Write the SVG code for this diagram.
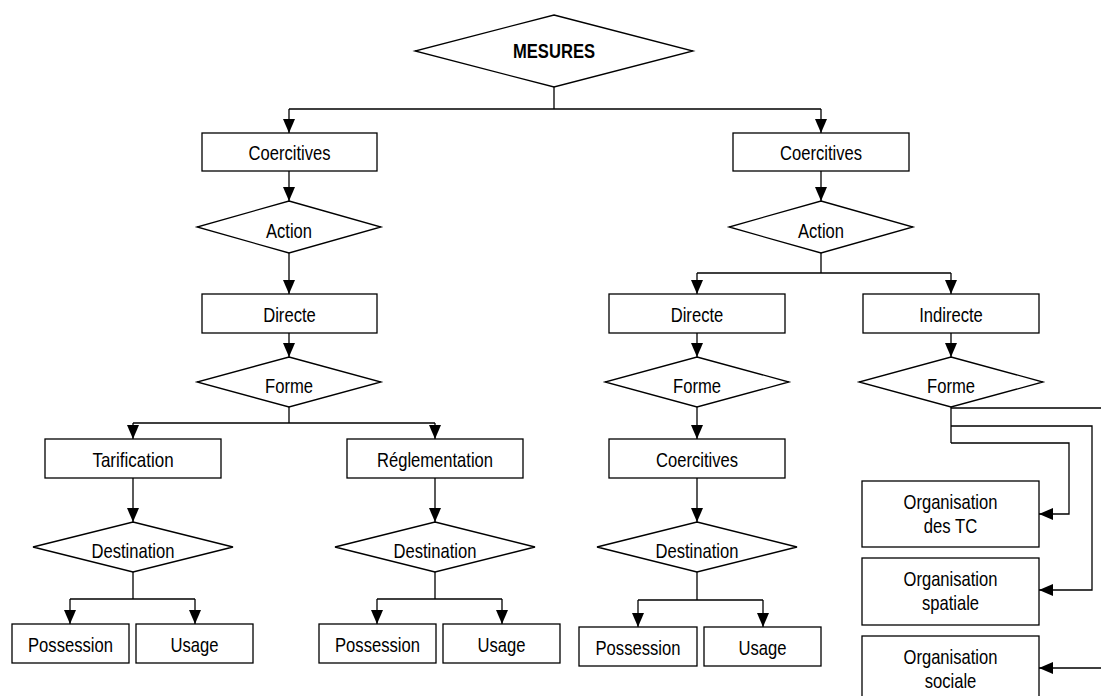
<svg xmlns="http://www.w3.org/2000/svg" width="1101" height="696" viewBox="0 0 1101 696">
<style>
.s{fill:#fff;stroke:#000;stroke-width:1.3}
.c{fill:none;stroke:#000;stroke-width:1.3}
text{font-family:"Liberation Sans",Arial,sans-serif;font-size:21px;text-anchor:middle;fill:#000}
.b{font-weight:bold}
</style>
<defs>
<marker id="ah" markerUnits="userSpaceOnUse" markerWidth="14" markerHeight="14" viewBox="0 0 14 12" refX="14" refY="6" orient="auto">
<path d="M0,0 L14,6 L0,12 Z" fill="#000"/>
</marker>
</defs>
<rect width="1101" height="696" fill="#fff"/>
<g id="connectors">
<path class="c" d="M554,87V109M289,109H821"/>
<path class="c" d="M289,109V133" marker-end="url(#ah)"/>
<path class="c" d="M821,109V133" marker-end="url(#ah)"/>
<path class="c" d="M289,171V201" marker-end="url(#ah)"/>
<path class="c" d="M289,253V294" marker-end="url(#ah)"/>
<path class="c" d="M289,333V357" marker-end="url(#ah)"/>
<path class="c" d="M289,407V423M133,423H435"/>
<path class="c" d="M133,423V439" marker-end="url(#ah)"/>
<path class="c" d="M435,423V439" marker-end="url(#ah)"/>
<path class="c" d="M133,478V522" marker-end="url(#ah)"/>
<path class="c" d="M435,478V522" marker-end="url(#ah)"/>
<path class="c" d="M133,572V599M70,599H195"/>
<path class="c" d="M70,599V624" marker-end="url(#ah)"/>
<path class="c" d="M195,599V624" marker-end="url(#ah)"/>
<path class="c" d="M435,572V599M377,599H502"/>
<path class="c" d="M377,599V624" marker-end="url(#ah)"/>
<path class="c" d="M502,599V624" marker-end="url(#ah)"/>
<path class="c" d="M821,171V201" marker-end="url(#ah)"/>
<path class="c" d="M821,253V273M697,273H951"/>
<path class="c" d="M697,273V294" marker-end="url(#ah)"/>
<path class="c" d="M951,273V294" marker-end="url(#ah)"/>
<path class="c" d="M697,333V357" marker-end="url(#ah)"/>
<path class="c" d="M697,407V439" marker-end="url(#ah)"/>
<path class="c" d="M697,478V522" marker-end="url(#ah)"/>
<path class="c" d="M697,572V600M638,600H763"/>
<path class="c" d="M638,600V627" marker-end="url(#ah)"/>
<path class="c" d="M763,600V627" marker-end="url(#ah)"/>
<path class="c" d="M951,333V357" marker-end="url(#ah)"/>
<path class="c" d="M951,407V443"/>
<path class="c" d="M951,408H1103V668H1039" marker-end="url(#ah)"/>
<path class="c" d="M951,426H1092V590H1039" marker-end="url(#ah)"/>
<path class="c" d="M951,443H1069V514H1039" marker-end="url(#ah)"/>
</g>
<g id="mesures"><polygon class="s" points="554,15 693,51 554,87 415,51"/><text class="b" x="554" y="57.5" textLength="82" lengthAdjust="spacingAndGlyphs">MESURES</text></g>
<g id="coerc-l"><rect class="s" x="202" y="133" width="175" height="38"/><text x="289.5" y="159.5" textLength="82" lengthAdjust="spacingAndGlyphs">Coercitives</text></g>
<g id="coerc-r"><rect class="s" x="733" y="133" width="176" height="38"/><text x="821" y="159.5" textLength="82" lengthAdjust="spacingAndGlyphs">Coercitives</text></g>
<g id="action-l"><polygon class="s" points="289,201 381,227 289,253 197,227"/><text x="289" y="237.5" textLength="46" lengthAdjust="spacingAndGlyphs">Action</text></g>
<g id="action-r"><polygon class="s" points="821,201 913,227 821,253 729,227"/><text x="821" y="237.5" textLength="46" lengthAdjust="spacingAndGlyphs">Action</text></g>
<g id="directe-l"><rect class="s" x="202" y="294" width="175" height="39"/><text x="289.5" y="321.5" textLength="52.6" lengthAdjust="spacingAndGlyphs">Directe</text></g>
<g id="forme-l"><polygon class="s" points="289,357 381,382 289,407 197,382"/><text x="289" y="393" textLength="48" lengthAdjust="spacingAndGlyphs">Forme</text></g>
<g id="tarif"><rect class="s" x="45" y="439" width="176" height="39"/><text x="133" y="466.5" textLength="81.2" lengthAdjust="spacingAndGlyphs">Tarification</text></g>
<g id="regl"><rect class="s" x="347" y="439" width="176" height="39"/><text x="435" y="466.5" textLength="116" lengthAdjust="spacingAndGlyphs">Réglementation</text></g>
<g id="dest-1"><polygon class="s" points="133,522 233,547 133,572 33,547"/><text x="133" y="558" textLength="83" lengthAdjust="spacingAndGlyphs">Destination</text></g>
<g id="dest-2"><polygon class="s" points="435,522 535,547 435,572 335,547"/><text x="435" y="558" textLength="83" lengthAdjust="spacingAndGlyphs">Destination</text></g>
<g id="poss-1"><rect class="s" x="12" y="624" width="117" height="39"/><text x="70.5" y="651.5" textLength="85" lengthAdjust="spacingAndGlyphs">Possession</text></g>
<g id="usage-1"><rect class="s" x="136" y="624" width="117" height="39"/><text x="194.5" y="651.5" textLength="48" lengthAdjust="spacingAndGlyphs">Usage</text></g>
<g id="poss-2"><rect class="s" x="319" y="624" width="117" height="39"/><text x="377.5" y="651.5" textLength="85" lengthAdjust="spacingAndGlyphs">Possession</text></g>
<g id="usage-2"><rect class="s" x="443" y="624" width="117" height="39"/><text x="501.5" y="651.5" textLength="48" lengthAdjust="spacingAndGlyphs">Usage</text></g>
<g id="directe-r"><rect class="s" x="609" y="294" width="176" height="39"/><text x="697" y="321.5" textLength="52.6" lengthAdjust="spacingAndGlyphs">Directe</text></g>
<g id="indirecte"><rect class="s" x="863" y="294" width="176" height="39"/><text x="951" y="321.5" textLength="63.7" lengthAdjust="spacingAndGlyphs">Indirecte</text></g>
<g id="forme-r1"><polygon class="s" points="697,357 789,382 697,407 605,382"/><text x="697" y="393" textLength="48" lengthAdjust="spacingAndGlyphs">Forme</text></g>
<g id="forme-r2"><polygon class="s" points="951,357 1043,382 951,407 859,382"/><text x="951" y="393" textLength="48" lengthAdjust="spacingAndGlyphs">Forme</text></g>
<g id="coerc-3"><rect class="s" x="609" y="439" width="176" height="39"/><text x="697" y="466.5" textLength="82" lengthAdjust="spacingAndGlyphs">Coercitives</text></g>
<g id="dest-3"><polygon class="s" points="697,522 797,547 697,572 597,547"/><text x="697" y="558" textLength="83" lengthAdjust="spacingAndGlyphs">Destination</text></g>
<g id="poss-3"><rect class="s" x="579" y="627" width="118" height="39"/><text x="638" y="654.5" textLength="85" lengthAdjust="spacingAndGlyphs">Possession</text></g>
<g id="usage-3"><rect class="s" x="704" y="627" width="117" height="39"/><text x="762.5" y="654.5" textLength="48" lengthAdjust="spacingAndGlyphs">Usage</text></g>
<g id="org-tc"><rect class="s" x="862" y="481" width="177" height="66"/><text x="950.5" y="508.5" textLength="94" lengthAdjust="spacingAndGlyphs">Organisation</text><text x="950.5" y="532.5" textLength="53.5" lengthAdjust="spacingAndGlyphs">des TC</text></g>
<g id="org-spat"><rect class="s" x="862" y="558" width="177" height="67"/><text x="950.5" y="586" textLength="94" lengthAdjust="spacingAndGlyphs">Organisation</text><text x="950.5" y="610" textLength="57.2" lengthAdjust="spacingAndGlyphs">spatiale</text></g>
<g id="org-soc"><rect class="s" x="862" y="636" width="177" height="67"/><text x="950.5" y="664" textLength="94" lengthAdjust="spacingAndGlyphs">Organisation</text><text x="950.5" y="688" textLength="51.7" lengthAdjust="spacingAndGlyphs">sociale</text></g>
</svg>
